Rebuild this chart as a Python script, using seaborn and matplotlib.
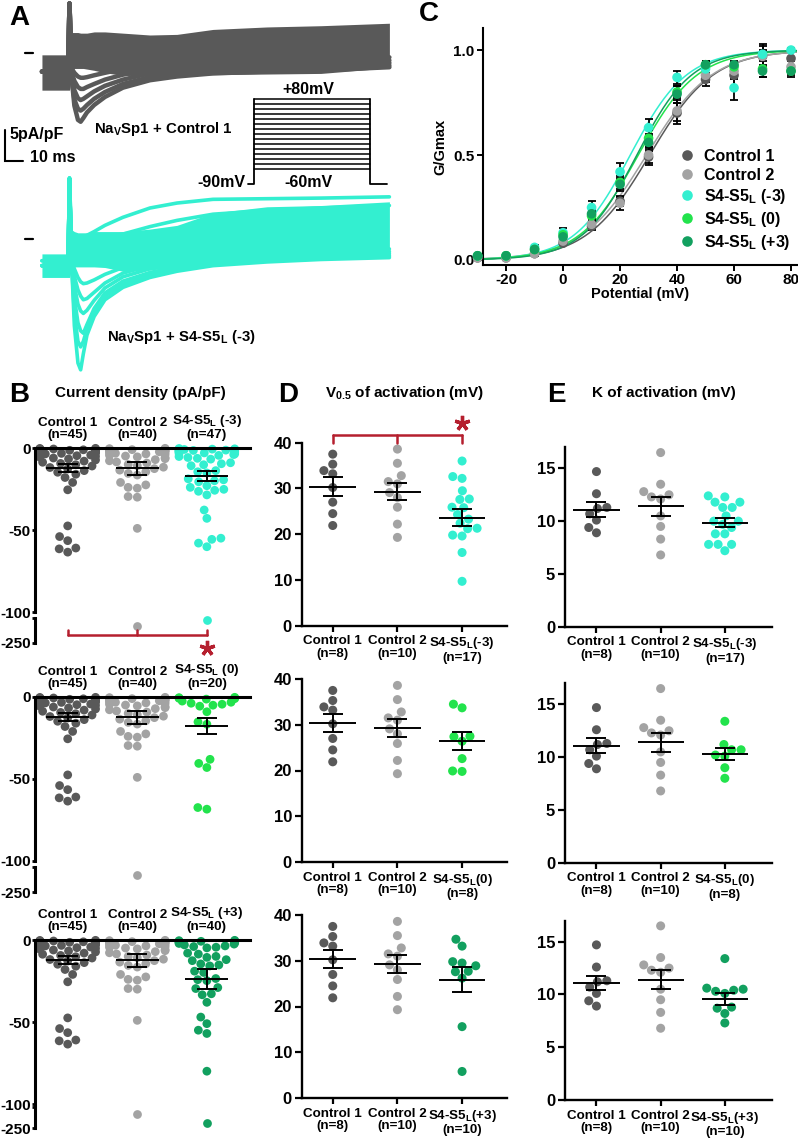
import warnings
warnings.filterwarnings("ignore")

import numpy as np
import pandas as pd
import matplotlib
matplotlib.use("Agg")
import matplotlib.pyplot as plt
import seaborn as sns

sns.set_style("ticks", {"axes.edgecolor": "black", "xtick.color": "black",
                        "ytick.color": "black", "text.color": "black",
                        "axes.labelcolor": "black"})
plt.rcParams["font.family"] = ["Liberation Sans", "DejaVu Sans"]
plt.rcParams["font.weight"] = "bold"
plt.rcParams["axes.labelweight"] = "bold"
plt.rcParams["axes.unicode_minus"] = False
plt.rcParams["mathtext.fontset"] = "custom"
plt.rcParams["mathtext.rm"] = "Liberation Sans:bold"
plt.rcParams["mathtext.bf"] = "Liberation Sans:bold"
plt.rcParams["mathtext.it"] = "Liberation Sans:bold"

W, H = 798, 1140

COLORS = {"c1": "#595959", "c2": "#a3a3a3", "m3": "#33efd0",
          "z0": "#22e34c", "p3": "#12a05f"}
RED = "#b51f2e"

# ---------------- Panel A: traces (ms from step onset, pA/pF) ----------------
TRACE_T = [-15, -0.5, 0.3, 1.5, 3, 5, 6.5, 8, 10, 14, 20, 30, 45, 60, 80, 110, 140, 178]

CTRL1_BAND_HI = [-0.3, -0.3, 8.0, 3.3, 3.3, 3.3, 3.2, 3.2, 3.2, 3.4, 3.4, 3.2, 2.9, 3.0, 3.8, 4.2, 4.4, 4.8]
CTRL1_BAND_LO = [-6.0, -6.0, -6.0, -3.0, -2.5, -2.5, -2.5, -2.5, -2.6, -2.8, -3.2, -3.6, -3.7, -3.6, -3.5, -3.4, -3.3, -2.4]
CTRL1_SWEEPS = [
    [-3, -3, 8.0, -4.0, -8.5, -10.8, -11.1, -10.5, -9.6, -8.4, -7.1, -5.6, -4.4, -3.8, -3.3, -3.0, -2.8, -2.3],
    [-3, -3, 8.0, -4.0, -7.5, -9.0, -9.3, -9.0, -8.4, -7.4, -6.3, -5.0, -3.9, -3.3, -2.9, -2.6, -2.4, -2.0],
    [-3, -3, 8.0, -3.5, -6.0, -7.3, -7.6, -7.4, -7.0, -6.2, -5.3, -4.3, -3.3, -2.8, -2.4, -2.1, -1.9, -1.6],
    [-3, -3, 8.0, -3.0, -4.5, -5.5, -5.8, -5.8, -5.5, -5.0, -4.3, -3.5, -2.7, -2.2, -1.9, -1.6, -1.4, -1.2],
    [-3, -3, 8.0, -2.5, -3.2, -3.8, -4.0, -4.0, -3.9, -3.6, -3.2, -2.6, -2.0, -1.6, -1.3, -1.1, -0.9, -0.7],
]

M3_BAND_HI = [-2.4, -2.4, 9.8, 1.5, 1.2, 1.0, 1.0, 1.0, 1.0, 1.2, 1.2, 1.2, 1.6, 2.2, 4.2, 5.2, 5.4, 6.0]
M3_BAND_LO = [-6.2, -6.2, -6.2, -4.5, -4.5, -4.5, -4.5, -4.5, -4.5, -4.5, -4.6, -5.2, -5.0, -4.5, -4.0, -3.5, -3.2, -3.0]
M3_SWEEPS = [
    [-4.3, -4.3, 9.8, -4.0, -14.0, -20.0, -21.1, -18.5, -15.5, -12.5, -9.8, -7.8, -6.2, -5.2, -4.3, -3.7, -3.3, -3.0],
    [-4.3, -4.3, 9.8, -4.0, -12.0, -16.5, -17.4, -16.5, -14.5, -11.8, -9.2, -7.3, -5.8, -4.9, -4.1, -3.5, -3.1, -2.8],
    [-4.3, -4.3, 9.8, -4.0, -9.5, -13.5, -14.8, -15.2, -13.8, -11.2, -8.7, -6.8, -5.4, -4.5, -3.8, -3.3, -2.9, -2.6],
    [-4.3, -4.3, 9.8, -4.0, -7.5, -10.5, -11.6, -12.0, -11.5, -9.9, -7.9, -6.1, -4.8, -4.0, -3.4, -2.9, -2.6, -2.3],
    [-4.3, -4.3, 9.8, -4.0, -6.0, -8.2, -9.2, -9.8, -9.6, -8.6, -7.1, -5.5, -4.3, -3.6, -3.0, -2.6, -2.3, -2.0],
    [-4.3, -4.3, 9.8, -3.5, -4.8, -6.2, -6.9, -7.2, -7.1, -6.6, -5.7, -4.6, -3.6, -3.0, -2.5, -2.1, -1.8, -1.6],
    [-3.5, -3.5, 9.8, -1.0, -0.6, -0.3, 0.0, 0.3, 0.6, 1.2, 2.2, 3.5, 5.0, 5.8, 6.4, 6.5, 6.6, 6.8],
    [-3.5, -3.5, 9.8, -1.5, -1.3, -1.2, -1.1, -1.0, -0.8, -0.5, 0.0, 0.8, 2.0, 3.0, 4.0, 4.6, 5.0, 5.4],
]

# voltage protocol
STEP_MV = [-60, -50, -40, -30, -20, -10, 0, 10, 20, 30, 40, 50, 60, 70, 80]
HOLD_MV = -90
PROTO_T = [0, 3.3, 67.8, 77.2]   # hold start, step on, step off, end

# ---------------- Panel C: G-V ----------------
GV_MV = [-30, -20, -10, 0, 10, 20, 30, 40, 50, 60, 70, 80]
GV = {
    "c1": [0.01, 0.01, 0.03, 0.08, 0.16, 0.28, 0.49, 0.70, 0.86, 0.88, 0.97, 0.96],
    "c2": [0.01, 0.01, 0.03, 0.09, 0.17, 0.27, 0.50, 0.71, 0.88, 0.90, 0.97, 0.92],
    "m3": [0.02, 0.02, 0.06, 0.13, 0.25, 0.42, 0.63, 0.87, 0.91, 0.82, 0.98, 1.00],
    "z0": [0.02, 0.02, 0.05, 0.12, 0.21, 0.37, 0.58, 0.80, 0.93, 0.92, 0.91, 0.90],
    "p3": [0.02, 0.02, 0.05, 0.11, 0.22, 0.36, 0.56, 0.79, 0.93, 0.93, 0.90, 0.90],
}
GV_ERR = {
    "c1": [0.005, 0.005, 0.01, 0.01, 0.015, 0.025, 0.04, 0.05, 0.03, 0.05, 0.06, 0.05],
    "c2": [0.005, 0.005, 0.01, 0.01, 0.015, 0.03, 0.04, 0.05, 0.03, 0.04, 0.05, 0.03],
    "m3": [0.005, 0.01, 0.01, 0.02, 0.03, 0.04, 0.04, 0.03, 0.02, 0.06, 0.02, 0.01],
    "z0": [0.005, 0.01, 0.01, 0.015, 0.025, 0.03, 0.04, 0.03, 0.02, 0.02, 0.04, 0.02],
    "p3": [0.005, 0.01, 0.01, 0.015, 0.025, 0.03, 0.04, 0.04, 0.02, 0.02, 0.03, 0.03],
}

# ---------------- Panel B: current density (pA/pF) ----------------
DENS = {
    "c1": [-0.2, -0.3, -0.5, -0.6, -0.8, -0.9, -1.1, -1.3, -1.4, -1.6, -1.8, -2.0, -2.2, -2.5,
           -2.7, -3.0, -3.3, -3.6, -3.9, -4.3, -4.7, -5.1, -5.6, -6.1, -6.7, -7.3, -8.0, -8.7,
           -9.4, -10.2, -11.0, -11.9, -12.8, -13.8, -14.8, -16.0,
           -18.0, -21.0, -25.5, -47.5, -54.0, -56.5, -61.0, -61.5, -63.5],
    "c2": [-0.2, -0.4, -0.6, -0.8, -1.0, -1.2, -1.4, -1.7, -2.0, -2.3, -2.6, -2.9, -3.2, -3.6,
           -4.0, -4.4, -4.9, -5.4, -5.9, -6.5, -7.1, -7.8, -8.5, -9.2, -10.0, -10.8, -11.7,
           -12.6, -13.5, -14.5, -15.5, -16.5,
           -21.0, -22.5, -24.0, -24.5, -29.6, -30.0, -49.0, -183.0],
    "m3": [-0.3, -0.5, -0.7, -0.9, -1.0, -1.1, -1.3, -1.5, -1.7, -1.9, -2.0, -2.1, -2.4, -2.7,
           -3.0, -3.3, -3.6, -4.0, -4.5, -5.2, -5.8, -6.3, -6.8, -9.0, -9.6, -10.2, -10.8,
           -13.8, -14.5, -15.2, -18.8, -19.4, -20.0, -20.6, -23.0, -24.0, -25.2, -25.8, -26.4,
           -28.6, -37.8, -42.9, -55.0, -55.7, -58.0, -60.2, -157.0],
    "z0": [-0.2, -0.4, -0.6, -0.8, -1.0, -1.3, -2.5, -3.2, -3.8, -4.4, -5.0, -5.6, -9.0,
           -15.2, -16.6, -38.0, -40.5, -43.0, -67.4, -68.4],
    "p3": [-0.2, -0.4, -0.6, -0.8, -1.0, -1.2, -1.5, -1.8, -2.1, -2.5, -3.0, -3.6, -4.0, -4.4,
           -4.8, -8.0, -8.6, -10.0, -10.6, -12.0, -12.6, -14.6, -15.2, -15.8, -19.0, -19.8,
           -23.5, -24.2, -24.8, -29.0, -29.6, -32.8, -33.4, -38.0, -47.0, -51.0, -55.0, -57.0,
           -80.0, -227.0],
}
DENS_MEAN = {"c1": -12.3, "c2": -12.3, "m3": -16.9, "z0": -17.6, "p3": -23.5}
DENS_SEM = {"c1": 2.6, "c2": 4.0, "m3": 3.1, "z0": 5.0, "p3": 6.1}
DENS_N = {"c1": 45, "c2": 40, "m3": 47, "z0": 20, "p3": 40}

# ---------------- Panel D: V0.5 (mV) ----------------
VHALF = {
    "c1": [37.5, 35.3, 33.9, 33.2, 30.2, 27.0, 24.5, 21.9],
    "c2": [38.6, 35.5, 32.8, 31.5, 31.0, 29.1, 28.0, 25.9, 22.2, 19.3],
    "m3": [36.0, 32.6, 32.2, 29.5, 27.7, 27.6, 25.9, 25.8, 24.3, 23.3, 22.4, 21.3, 21.2,
           19.8, 19.6, 16.0, 9.7],
    "z0": [34.5, 33.7, 27.5, 27.4, 26.4, 22.6, 19.9, 19.8],
    "p3": [34.7, 33.2, 29.8, 29.5, 28.9, 27.7, 27.6, 26.2, 15.6, 5.8],
}
VHALF_MEAN = {"c1": 30.4, "c2": 29.3, "m3": 23.6, "z0": 26.4, "p3": 25.9}
VHALF_SEM = {"c1": 2.0, "c2": 1.9, "m3": 1.8, "z0": 2.0, "p3": 2.8}

# ---------------- Panel E: slope K (mV) ----------------
KSLOPE = {
    "c1": [14.7, 12.6, 11.3, 11.2, 10.7, 10.1, 9.4, 8.9],
    "c2": [16.5, 13.5, 12.8, 12.5, 12.3, 12.1, 10.5, 9.5, 8.3, 6.8],
    "m3": [12.4, 12.3, 11.8, 11.8, 11.3, 11.3, 10.5, 10.0, 10.0, 9.7, 9.4, 8.8, 8.8,
           7.8, 7.8, 7.8, 7.2],
    "z0": [13.4, 11.2, 10.7, 10.7, 10.2, 10.1, 9.0, 8.0],
    "p3": [13.4, 10.6, 10.5, 10.4, 10.3, 10.1, 8.8, 8.7, 8.2, 7.3],
}
KSLOPE_MEAN = {"c1": 11.1, "c2": 11.4, "m3": 9.85, "z0": 10.3, "p3": 9.6}
KSLOPE_SEM = {"c1": 0.67, "c2": 0.9, "m3": 0.42, "z0": 0.55, "p3": 0.58}

SUB_L = r"S4-S5$_\mathbf{L}$"
NAMES = {"c1": "Control 1", "c2": "Control 2", "m3": SUB_L + " (-3)",
         "z0": SUB_L + " (0)", "p3": SUB_L + " (+3)"}
SHORT = {"m3": "(-3)", "z0": "(0)", "p3": "(+3)"}
ROW_KEYS = ["m3", "z0", "p3"]


def px_axes(fig, left, top, right, bottom):
    return fig.add_axes([left / W, 1 - bottom / H, (right - left) / W, (bottom - top) / H])


def fx(x):
    return x / W


def fy(y):
    return 1 - y / H


def long_df(table, keys):
    vals = [table[k] for k in keys]
    return pd.DataFrame({"grp": np.repeat(keys, [len(v) for v in vals]),
                         "val": np.concatenate(vals)})


def mean_sem(ax, means, sems, halfw):
    xs = np.arange(len(means))
    ax.hlines(means, xs - halfw, xs + halfw, color="black", lw=1.4, zorder=5)
    ax.errorbar(xs, means, yerr=sems, fmt="none", ecolor="black", elinewidth=1.4,
                capsize=7.5, capthick=1.4, zorder=5)


fig = plt.figure(figsize=(W / 100, H / 100), dpi=100)

# ================= Panel A =================
ax_a1 = px_axes(fig, 0, 0, 420, 180)
ax_a1.set_xlim(-38.3, 195)
ax_a1.set_ylim(-20.5, 8.55)
ax_a1.axis("off")
ax_a1.fill_between(TRACE_T, CTRL1_BAND_LO, CTRL1_BAND_HI, color=COLORS["c1"], lw=0)
for sw in CTRL1_SWEEPS:
    ax_a1.plot(TRACE_T, sw, color=COLORS["c1"], lw=3.2, solid_joinstyle="round")
ax_a1.plot([-24.4, -20.0], [0, 0], color="black", lw=1.6)
# scale bar 5 pA/pF, 10 ms
ax_a1.plot([-35.6, -35.6, -25.6], [-12.4, -17.4, -17.4], color="black", lw=1.5,
           solid_joinstyle="miter")

ax_a2 = px_axes(fig, 0, 170, 420, 380)
ax_a2.set_xlim(-38.3, 195)
ax_a2.set_ylim(-22.74, 11.13)
ax_a2.axis("off")
ax_a2.fill_between(TRACE_T, M3_BAND_LO, M3_BAND_HI, color=COLORS["m3"], lw=0)
for sw in M3_SWEEPS:
    ax_a2.plot(TRACE_T, sw, color=COLORS["m3"], lw=2.6, solid_joinstyle="round")
ax_a2.plot([-24.4, -20.0], [0, 0], color="black", lw=1.6)

ax_p = px_axes(fig, 248, 99, 387, 184)
ax_p.set_xlim(PROTO_T[0], PROTO_T[-1])
ax_p.set_ylim(HOLD_MV, STEP_MV[-1])
ax_p.axis("off")
for v in STEP_MV:
    ax_p.plot([PROTO_T[1], PROTO_T[2]], [v, v], color="black", lw=1.1, clip_on=False)
ax_p.plot([PROTO_T[0], PROTO_T[1], PROTO_T[1]], [HOLD_MV, HOLD_MV, STEP_MV[-1]],
          color="black", lw=1.3, clip_on=False)
ax_p.plot([PROTO_T[2], PROTO_T[2], PROTO_T[3]], [STEP_MV[-1], HOLD_MV, HOLD_MV],
          color="black", lw=1.3, clip_on=False)

fig.text(fx(308), fy(89), "+80mV", fontsize=11.5, ha="center", va="center")
fig.text(fx(308), fy(183), "-60mV", fontsize=11.5, ha="center", va="center")
fig.text(fx(245), fy(182), "-90mV", fontsize=11.5, ha="right", va="center")
fig.text(fx(94), fy(129), r"Na$_\mathbf{V}$Sp1 + Control 1", fontsize=10.8, va="center")
fig.text(fx(107), fy(337), r"Na$_\mathbf{V}$Sp1 + " + SUB_L + " (-3)", fontsize=10.8,
         va="center")
fig.text(fx(9), fy(135), "5pA/pF", fontsize=11.5, va="center")
fig.text(fx(30), fy(158), "10 ms", fontsize=11.5, va="center")

# ================= Panel C =================
ax_c = px_axes(fig, 483, 28, 797, 265)
v_fit = np.linspace(-30, 82, 300)
c_keys = ["c1", "c2", "m3", "z0", "p3"]
for k in c_keys:
    vh, kk = VHALF_MEAN[k], KSLOPE_MEAN[k]
    ax_c.plot(v_fit, 1.0 / (1.0 + np.exp((vh - v_fit) / kk)), color=COLORS[k], lw=1.1,
              zorder=1)
    ax_c.errorbar(GV_MV, GV[k], yerr=GV_ERR[k], fmt="none", ecolor="black",
                  elinewidth=1.3, capsize=3.2, capthick=1.3, zorder=2)
gv_df = pd.DataFrame({
    "V": np.tile(GV_MV, len(c_keys)),
    "G": np.concatenate([GV[k] for k in c_keys]),
    "grp": np.repeat([NAMES[k] for k in c_keys], len(GV_MV)),
})
sns.scatterplot(data=gv_df, x="V", y="G", hue="grp",
                palette=[COLORS[k] for k in c_keys], s=48, linewidth=0, zorder=3,
                ax=ax_c, clip_on=False)
sns.move_legend(ax_c, "lower right", bbox_to_anchor=(1.0, 0.03), frameon=False,
                title=None, fontsize=11.5, handletextpad=0.05, labelspacing=0.25,
                borderaxespad=0, markerscale=1.1)
ax_c.set_xlim(-28.1, 82.1)
ax_c.set_ylim(-0.024, 1.105)
ax_c.set_xticks([-20, 0, 20, 40, 60, 80])
ax_c.set_yticks([0, 0.5, 1.0])
ax_c.set_yticklabels(["0.0", "0.5", "1.0"])
ax_c.set_xlabel("Potential (mV)", fontsize=10.5, labelpad=0)
ax_c.set_ylabel("G/Gmax", fontsize=10.5, labelpad=4)
ax_c.tick_params(labelsize=11, length=4, width=1.4, pad=2)
for s in ["left", "bottom"]:
    ax_c.spines[s].set_linewidth(1.5)
sns.despine(ax=ax_c)

# ================= Panel B =================
B_ZERO_Y = [448, 697, 940]
B_BREAK = [(170, 195), (170, 195), (167, 188)]   # lower segment offsets per row
for row, mk in enumerate(ROW_KEYS):
    y0 = B_ZERO_Y[row]
    keys = ["c1", "c2", mk]
    pal = {k: COLORS[k] for k in keys}
    df = long_df(DENS, keys)
    ax_up = px_axes(fig, 35, y0, 250, y0 + 164)
    ax_lo = px_axes(fig, 35, y0 + B_BREAK[row][0], 250, y0 + B_BREAK[row][1])
    sns.swarmplot(data=df[df.val > -100], x="grp", y="val", hue="grp", order=keys,
                  hue_order=keys, palette=pal, size=6.3, legend=False, ax=ax_up,
                  clip_on=False, zorder=2)
    lo = df[df.val <= -100]
    sns.stripplot(data=lo, x="grp", y="val", hue="grp", order=keys,
                  hue_order=[k for k in keys if k in set(lo.grp)],
                  palette=pal, size=6.3, jitter=False, legend=False, ax=ax_lo,
                  clip_on=False, zorder=2)
    mean_sem(ax_up, [DENS_MEAN[k] for k in keys], [DENS_SEM[k] for k in keys], 0.31)
    for ax in (ax_up, ax_lo):
        ax.set_xlim(-0.47, 2.62)
        ax.set_xlabel("")
        ax.set_ylabel("")
        ax.patch.set_alpha(0)
    ax_up.set_ylim(-100, 0)
    ax_lo.set_ylim(-250, -150)
    ax_up.spines["bottom"].set_visible(False)
    ax_up.spines["right"].set_visible(False)
    ax_up.spines["top"].set_linewidth(2.2)
    ax_up.spines["left"].set_linewidth(2.2)
    for s in ["top", "bottom", "right"]:
        ax_lo.spines[s].set_visible(False)
    ax_lo.spines["left"].set_linewidth(2.2)
    ax_up.set_yticks([0, -50, -100])
    ax_up.xaxis.tick_top()
    ax_up.set_xticks([0, 1, 2])
    ax_up.set_xticklabels([f"{NAMES[k]}\n(n={DENS_N[k]})" for k in keys],
                          fontsize=9.7, linespacing=1.05)
    ax_up.tick_params(axis="x", length=0, pad=5)
    ax_up.tick_params(axis="y", length=2.5, width=2, labelsize=11, pad=0.5)
    ax_lo.set_xticks([])
    ax_lo.set_yticks([-250, -150])
    ax_lo.set_yticklabels(["-250", ""])
    ax_lo.tick_params(axis="y", length=2.5, width=2, labelsize=11, pad=0.5)
    if row == 0:
        yb = -216.7
        ax_lo.plot([0, 2], [yb, yb], color=RED, lw=1.8, clip_on=False)
        for xb in (0, 1, 2):
            ax_lo.plot([xb, xb], [yb, -196], color=RED, lw=1.8, clip_on=False)
        ax_lo.plot(2, -268, marker=(5, 2, 0), ms=11, mew=2.4, color=RED, clip_on=False)


# ================= Panels D and E =================
def dot_row(rect, table, means, sems, keys, ylim, yticks, n_labels):
    ax = px_axes(fig, *rect)
    pal = {k: COLORS[k] for k in keys}
    sns.swarmplot(data=long_df(table, keys), x="grp", y="val", hue="grp", order=keys,
                  hue_order=keys, palette=pal, size=6.5, legend=False, ax=ax,
                  clip_on=False, zorder=2)
    mean_sem(ax, [means[k] for k in keys], [sems[k] for k in keys], 0.36)
    ax.set_ylim(*ylim)
    ax.set_yticks(yticks)
    ax.set_xlabel("")
    ax.set_ylabel("")
    ax.set_xticks([0, 1, 2])
    labels = ["Control 1", "Control 2", SUB_L + SHORT[keys[2]]]
    ax.set_xticklabels([f"{lab}\n(n={n})" for lab, n in zip(labels, n_labels)],
                       fontsize=9.6, linespacing=1.05)
    ax.tick_params(axis="x", length=4, width=1.6, pad=3)
    ax.tick_params(axis="y", length=5, width=1.6, labelsize=12, pad=2)
    for s in ["left", "bottom"]:
        ax.spines[s].set_linewidth(1.7)
    sns.despine(ax=ax)
    ax.patch.set_alpha(0)
    return ax


D_TOP = [442.7, 679, 915]
E_BOTTOM = [626.7, 862.7, 1100]
SMALL_N = {"c1": 8, "c2": 10, "m3": 17, "z0": 8, "p3": 10}
for row, mk in enumerate(ROW_KEYS):
    keys = ["c1", "c2", mk]
    ns = [SMALL_N[k] for k in keys]
    ax_d = dot_row((301.7, D_TOP[row], 506.7, D_TOP[row] + 183), VHALF, VHALF_MEAN,
                   VHALF_SEM, keys, (0, 40), [0, 10, 20, 30, 40], ns)
    ax_d.set_xlim(-0.48, 2.69)
    ax_e = dot_row((565, E_BOTTOM[row] - 179.4, 771.7, E_BOTTOM[row]), KSLOPE,
                   KSLOPE_MEAN, KSLOPE_SEM, keys, (0, 17), [0, 5, 10, 15], ns)
    ax_e.set_xlim(-0.49, 2.73)
    if row == 0:
        yb = 41.7
        ax_d.plot([0, 2], [yb, yb], color=RED, lw=1.8, clip_on=False)
        for xb in (0, 1, 2):
            ax_d.plot([xb, xb], [yb, 40], color=RED, lw=1.8, clip_on=False)
        ax_d.plot(2, 44.2, marker=(5, 2, 0), ms=11, mew=2.4, color=RED, clip_on=False)

# ================= panel letters and titles =================
for letter, x, y in [("A", 9, 25), ("C", 419, 21), ("B", 9, 402), ("D", 278, 402),
                     ("E", 547, 402)]:
    fig.text(fx(x), fy(y), letter, fontsize=20, va="baseline")
fig.text(fx(55), fy(397), "Current density (pA/pF)", fontsize=11, va="baseline")
fig.text(fx(325), fy(397), r"V$_\mathbf{0.5}$ of activation (mV)", fontsize=11,
         va="baseline")
fig.text(fx(592), fy(397), "K of activation (mV)", fontsize=11, va="baseline")

fig.savefig("out.png", dpi=100)
